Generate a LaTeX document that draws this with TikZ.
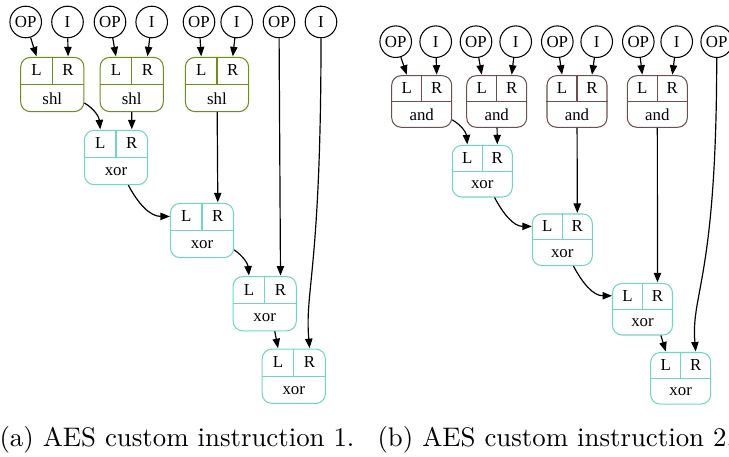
\documentclass[tikz,border=0pt]{standalone}
\usepackage{fontspec}
\newfontfamily\dotfont{Liberation Serif}
\usetikzlibrary{arrows.meta}

\definecolor{shlcol}{HTML}{6B8E23}
\definecolor{xorcol}{HTML}{72D4C4}
\definecolor{andcol}{HTML}{6E4F4F}

\newcommand\recw{24pt}
\newcommand\rech{20.6pt}
\newcommand\dotsize{\dotfont\fontsize{6.4}{7}\selectfont}

\tikzset{
  opnd/.style={circle,draw,inner sep=0pt,minimum size=12pt,font=\dotsize},
  rec/.style={draw=#1,rounded corners=3.6pt,minimum width=\recw,minimum height=\rech,inner sep=0pt},
  port/.style={minimum width=\recw/2,minimum height=\rech/2,inner sep=0pt,font=\dotsize},
  wire/.style={-{Triangle[length=3.6pt,width=2.8pt]},line width=0.45pt},
  caption/.style={anchor=base west,inner sep=0pt,font=\fontsize{10.2}{12}\selectfont},
}

% record node: name, position, operation, colour
\newcommand\record[4]{%
  \node[rec=#4] (#1) at (#2) {};
  \draw[#4] (#1.west) -- (#1.east) (#1.north) -- (#1.center);
  \node[port,anchor=south west] (#1-L) at (#1.west) {L};
  \node[port,anchor=south east] (#1-R) at (#1.east) {R};
  \node[port,minimum width=\recw,anchor=north] (#1-op) at (#1.center) {#3};
}

\begin{document}
\begin{tikzpicture}[x=0.38pt,y=0.38pt]
\useasboundingbox (0,0) rectangle (729,-457);

% (a) first instruction
\node[opnd] (opa1) at (25.7,-22) {OP};
\node[opnd] (ia1) at (67.5,-22) {I};
\node[opnd] (opa2) at (110,-22) {OP};
\node[opnd] (ia2) at (151.7,-22) {I};
\node[opnd] (opa3) at (199,-22) {OP};
\node[opnd] (ia3) at (236.7,-22) {I};
\node[opnd] (opa4) at (279,-22) {OP};
\node[opnd] (ia4) at (321,-22) {I};

\record{shl1}{52.3,-84.5}{shl}{shlcol}
\record{shl2}{131.7,-84.5}{shl}{shlcol}
\record{shl3}{217,-84.5}{shl}{shlcol}
\record{xa1}{116,-157.5}{xor}{xorcol}
\record{xa2}{202,-230.5}{xor}{xorcol}
\record{xa3}{264.7,-303.7}{xor}{xorcol}
\record{xa4}{293.8,-376.3}{xor}{xorcol}

\path[wire]
  (opa1) edge (shl1-L.north)
  (ia1) edge (shl1-R.north)
  (opa2) edge (shl2-L.north)
  (ia2) edge (shl2-R.north)
  (opa3) edge (shl3-L.north)
  (ia3) edge (shl3-R.north)
  (shl1.-30) edge [out=-30,in=95] (xa1-L.north)
  (shl2) edge (xa1-R.north)
  (shl3) edge (xa2-R.north)
  (xa1.-66) edge [out=-62,in=180] (xa2-L.west)
  (opa4) edge (xa3-R.north)
  (xa2.-31) edge [out=-35,in=95] (xa3-L.north)
  (xa3.-70) edge (xa4-L.north)
  (ia4) edge [out=-90,in=95,out distance=88pt,in distance=22pt] (xa4-R.north);

% (b) second instruction
\renewcommand\recw{22.8pt}
\renewcommand\rech{19.6pt}
\node[opnd] (opb1) at (395.7,-41.7) {OP};
\node[opnd] (ib1) at (435.7,-41.7) {I};
\node[opnd] (opb2) at (476,-41.7) {OP};
\node[opnd] (ib2) at (515.7,-41.7) {I};
\node[opnd] (opb3) at (557.3,-41.7) {OP};
\node[opnd] (ib3) at (596.7,-41.7) {I};
\node[opnd] (opb4) at (638.3,-41.7) {OP};
\node[opnd] (ib4) at (676.7,-41.7) {I};
\node[opnd] (opb5) at (716.7,-41.7) {OP};

\record{and1}{421.7,-101.5}{and}{andcol}
\record{and2}{496.7,-101.5}{and}{andcol}
\record{and3}{577,-101.5}{and}{andcol}
\record{and4}{657.3,-101.5}{and}{andcol}
\record{xb1}{482.3,-171.2}{xor}{xorcol}
\record{xb2}{562.3,-239.8}{xor}{xorcol}
\record{xb3}{642.5,-309.2}{xor}{xorcol}
\record{xb4}{680.7,-378.3}{xor}{xorcol}

\path[wire]
  (opb1) edge (and1-L.north)
  (ib1) edge (and1-R.north)
  (opb2) edge (and2-L.north)
  (ib2) edge (and2-R.north)
  (opb3) edge (and3-L.north)
  (ib3) edge (and3-R.north)
  (opb4) edge (and4-L.north)
  (ib4) edge (and4-R.north)
  (and1.-31) edge [out=-30,in=95] (xb1-L.north)
  (and2) edge (xb1-R.north)
  (and3) edge (xb2-R.north)
  (xb1.-65) edge [out=-62,in=180] (xb2-L.west)
  (and4) edge (xb3-R.north)
  (xb2.-67) edge [out=-62,in=180] (xb3-L.west)
  (xb3.-55) edge (xb4-L.north)
  (opb5) edge [out=-90,in=95,out distance=84pt,in distance=22pt] (xb4-R.north);

% captions
\node[caption] (capa) at (-1,-447) {(a) AES custom instruction 1.};
\node[caption] (capb) at (377,-447) {(b) AES custom instruction 2.};
\end{tikzpicture}
\end{document}
